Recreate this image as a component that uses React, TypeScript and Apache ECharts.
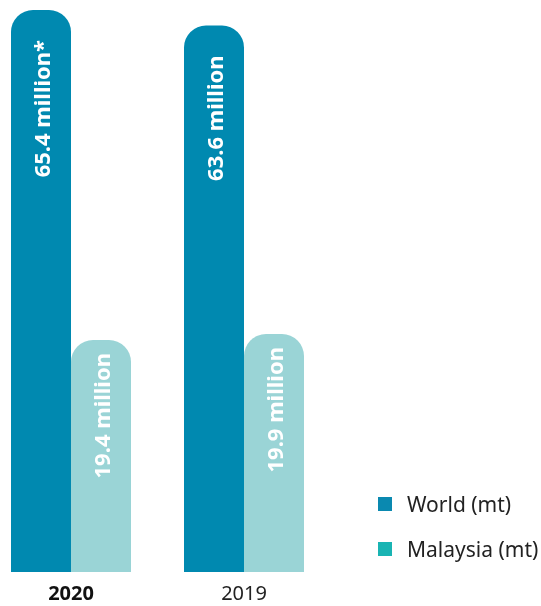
import React, { useEffect, useRef } from "react";
import * as echarts from "echarts";

const categories = ["2020", "2019"];
const worldValues = [65.4, 63.6];
const malaysiaValues = [19.4, 19.9];
const worldLabels = ["65.4 million*", "63.6 million"];
const malaysiaLabels = ["19.4 million", "19.9 million"];
const seriesNames = ["World (mt)", "Malaysia (mt)"];

export default function App() {
  const ref = useRef<HTMLDivElement>(null);
  useEffect(() => {
    document.body.style.margin = "0";
    const chart = echarts.init(ref.current!, undefined, { renderer: "svg" });
    const font = "Noto Sans";
    chart.setOption({
      animation: false,
      grid: { left: 71, right: 297, top: 10, bottom: 34 },
      legend: {
        orient: "vertical",
        left: 373,
        top: 487,
        itemWidth: 14,
        itemHeight: 14,
        itemGap: 21,
        icon: "rect",
        textStyle: { fontFamily: font, fontSize: 21, color: "#222", lineHeight: 24, padding: [0, 0, 0, 10] },
        data: [
          { name: seriesNames[0], itemStyle: { color: "#0a89b0" } },
          { name: seriesNames[1], itemStyle: { color: "#19b4b3" } },
        ],
      },
      xAxis: {
        type: "category",
        data: categories,
        boundaryGap: false,
        axisLine: { show: false },
        axisTick: { show: false },
        axisLabel: {
          margin: 10,
          formatter: (v: string) => (v === "2020" ? `{b|${v}}` : `{n|${v}}`),
          rich: {
            b: { fontFamily: font, fontSize: 20, fontWeight: "bold", color: "#111" },
            n: { fontFamily: font, fontSize: 20, color: "#222" },
          },
        },
      },
      yAxis: [
        { type: "value", min: 0, max: 65.4, show: false },
        { type: "value", min: 0, max: 47, show: false },
      ],
      series: [
        {
          name: seriesNames[0],
          type: "bar",
          yAxisIndex: 0,
          data: worldValues,
          barWidth: 60,
          barGap: "0%",
          clip: false,
          itemStyle: { color: "#0089b0", borderRadius: [22, 22, 0, 0] },
          label: {
            show: true,
            position: "insideTop",
            rotate: 90,
            align: "right",
            verticalAlign: "middle",
            distance: 30,
            color: "#fff",
            fontFamily: font,
            fontWeight: "bold",
            fontSize: 22,
            formatter: (p: any) => worldLabels[p.dataIndex],
          },
        },
        {
          name: seriesNames[1],
          type: "bar",
          yAxisIndex: 1,
          data: malaysiaValues,
          barWidth: 60,
          clip: false,
          itemStyle: { color: "#9ad4d6", borderRadius: [22, 22, 0, 0] },
          label: {
            show: true,
            position: "insideTop",
            rotate: 90,
            align: "right",
            verticalAlign: "middle",
            distance: 13,
            color: "#fff",
            fontFamily: font,
            fontWeight: "bold",
            fontSize: 22,
            formatter: (p: any) => malaysiaLabels[p.dataIndex],
          },
        },
      ],
    });
    return () => chart.dispose();
  }, []);
  return <div ref={ref} style={{ position: "fixed", left: 0, top: 0, width: 541, height: 606 }} />;
}
